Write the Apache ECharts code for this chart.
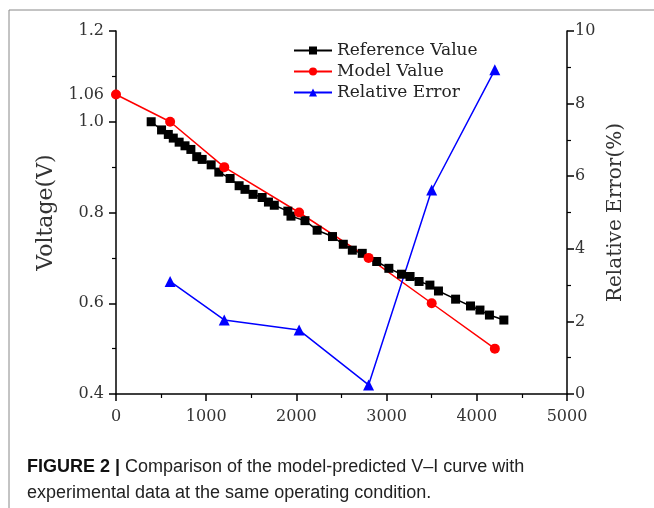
<!DOCTYPE html>
<html>
<head>
<meta charset="utf-8">
<script src="https://cdn.jsdelivr.net/npm/echarts@6/dist/echarts.min.js"></script>
<style>
    html, body { margin: 0; padding: 0; background: #fff; }
    #chart { width: 654px; height: 508px; }
</style>
</head>
<body>
<div id="chart"></div>
<script>
// reference (measured) V-I points
const refCurrent = [390, 505, 580, 635, 700, 765, 830, 895, 955, 1055, 1140, 1265, 1365, 1430, 1520, 1620, 1690, 1755, 1905, 1940,
    2095, 2230, 2400, 2520, 2620, 2730, 2890, 3025, 3165, 3260, 3360, 3480, 3575, 3765, 3930, 4035, 4140, 4300]
const refVoltage = [1.0, 0.982, 0.972, 0.964, 0.955, 0.947, 0.939, 0.923, 0.917, 0.905, 0.889, 0.875, 0.859, 0.851, 0.840, 0.833, 0.823, 0.816, 0.803, 0.792,
    0.782, 0.761, 0.747, 0.730, 0.717, 0.710, 0.692, 0.677, 0.664, 0.659, 0.648, 0.640, 0.627, 0.609, 0.594, 0.585, 0.574, 0.563]

// model prediction
const modelCurrent = [0, 600, 1200, 2030, 2800, 3500, 4200]
const modelVoltage = [1.06, 1.0, 0.9, 0.8, 0.7, 0.6, 0.5]

// relative error (%)
const errCurrent = [600, 1200, 2030, 2800, 3500, 4200]
const errValue = [3.1, 2.04, 1.76, 0.25, 5.62, 8.93]

const leftLabels = [0.4, 0.6, 0.8, 1.0, 1.06, 1.2]
const leftTicks = [0.4, 0.6, 0.8, 1.0, 1.2]

const pairs = (xs, ys) => xs.map((x, i) => [x, ys[i]])

const serif = 'DejaVu Serif'
const labelStyle = { fontFamily: serif, fontSize: 16, color: '#333' }
const axisLineStyle = { color: '#000', width: 1.5 }

const chart = echarts.init(document.getElementById('chart'), null, { renderer: 'canvas' })

chart.setOption({
    backgroundColor: '#fff',
    animation: false,
    title: {
        left: 22,
        top: 449,
        text: '{b|FIGURE 2 |} Comparison of the model-predicted V–I curve with\nexperimental data at the same operating condition.',
        textStyle: {
            fontFamily: 'Liberation Sans',
            fontSize: 18,
            fontWeight: 'normal',
            color: '#222',
            lineHeight: 26,
            rich: {
                b: { fontFamily: 'Liberation Sans', fontSize: 18, fontWeight: 'bold', color: '#111', lineHeight: 26 }
            }
        }
    },
    graphic: [{
        type: 'polyline',
        silent: true,
        shape: { points: [[9, 520], [9, 10], [660, 10]] },
        style: { stroke: '#888', lineWidth: 1, fill: null }
    }],
    legend: {
        orient: 'vertical',
        left: 288,
        top: 37,
        itemWidth: 38,
        itemHeight: 10,
        itemGap: 4,
        textStyle: { fontFamily: serif, fontSize: 17, color: '#222' },
        data: ['Reference Value', 'Model Value', 'Relative Error']
    },
    grid: {
        left: 116,
        right: 87,
        top: 31,
        bottom: 114
    },
    xAxis: {
        type: 'value',
        min: 0,
        max: 5000,
        interval: 1000,
        axisLine: { onZero: false, lineStyle: axisLineStyle },
        axisTick: { inside: false, length: 7, lineStyle: axisLineStyle },
        minorTick: { show: true, splitNumber: 2, length: 4, lineStyle: { color: '#000', width: 1.2 } },
        axisLabel: Object.assign({ margin: 15, formatter: v => String(v) }, labelStyle),
        splitLine: { show: false }
    },
    yAxis: [{
        type: 'value',
        position: 'left',
        min: 0.4,
        max: 1.2,
        interval: 0.2,
        name: 'Voltage(V)',
        nameLocation: 'middle',
        nameGap: 58,
        nameRotate: 90,
        nameTextStyle: { fontFamily: serif, fontSize: 22, color: '#333' },
        axisLine: { show: true, onZero: false, lineStyle: axisLineStyle },
        axisTick: { inside: false, length: 7, customValues: leftTicks, lineStyle: axisLineStyle },
        minorTick: { show: true, splitNumber: 2, length: 4, lineStyle: { color: '#000', width: 1.2 } },
        axisLabel: Object.assign({
            margin: 12,
            customValues: leftLabels,
            formatter: v => Math.abs(v - 1.06) < 1e-6 ? '1.06' : v.toFixed(1)
        }, labelStyle),
        splitLine: { show: false }
    }, {
        type: 'value',
        position: 'right',
        min: 0,
        max: 10,
        interval: 2,
        name: 'Relative Error(%)',
        nameLocation: 'middle',
        nameGap: 35,
        nameRotate: 90,
        nameTextStyle: { fontFamily: serif, fontSize: 20, color: '#333' },
        axisLine: { show: true, onZero: false, lineStyle: axisLineStyle },
        axisTick: { inside: false, length: 7, lineStyle: axisLineStyle },
        minorTick: { show: true, splitNumber: 2, length: 4, lineStyle: { color: '#000', width: 1.2 } },
        axisLabel: Object.assign({ margin: 8 }, labelStyle),
        splitLine: { show: false }
    }],
    series: [{
        name: 'Reference Value',
        type: 'line',
        yAxisIndex: 0,
        symbol: 'rect',
        symbolSize: 9,
        color: '#000',
        lineStyle: { color: '#000', width: 1.5 },
        itemStyle: { color: '#000' },
        data: pairs(refCurrent, refVoltage)
    }, {
        name: 'Model Value',
        type: 'line',
        yAxisIndex: 0,
        symbol: 'circle',
        symbolSize: 10,
        color: '#ff0000',
        lineStyle: { color: '#ff0000', width: 1.5 },
        itemStyle: { color: '#ff0000' },
        data: pairs(modelCurrent, modelVoltage)
    }, {
        name: 'Relative Error',
        type: 'line',
        yAxisIndex: 1,
        symbol: 'triangle',
        symbolSize: 11,
        color: '#0000ff',
        lineStyle: { color: '#0000ff', width: 1.5 },
        itemStyle: { color: '#0000ff' },
        data: pairs(errCurrent, errValue)
    }]
})
</script>
</body>
</html>
